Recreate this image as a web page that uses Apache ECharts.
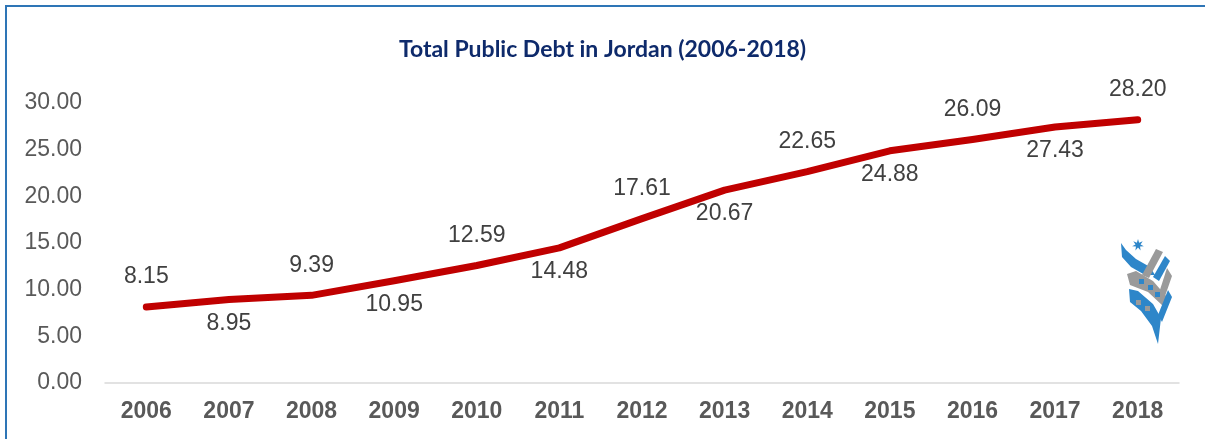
<!DOCTYPE html>
<html>
<head>
<meta charset="utf-8">
<script src="https://cdn.jsdelivr.net/npm/echarts@6/dist/echarts.min.js"></script>
<style>
html,body{margin:0;padding:0;background:#fff;}
#frame{position:absolute;left:5px;top:5px;width:1210px;height:450px;border:2px solid #2E75B6;box-sizing:border-box;}
#chart{position:absolute;left:0;top:0;width:1205px;height:439px;}
</style>
</head>
<body>
<div id="frame"></div>
<div id="chart"></div>
<script>
const years = ['2006','2007','2008','2009','2010','2011','2012','2013','2014','2015','2016','2017','2018'];
const debt = [8.15, 8.95, 9.39, 10.95, 12.59, 14.48, 17.61, 20.67, 22.65, 24.88, 26.09, 27.43, 28.20];
const labelSide = ['top','bottom','top','bottom','top','bottom','top','bottom','top','bottom','top','bottom','top'];

const chart = echarts.init(document.getElementById('chart'));
const seriesData = debt.map((v, i) => ({
  value: v,
  label: {
    show: true,
    position: labelSide[i],
    distance: labelSide[i] === 'top' ? 18 : 12
  }
}));

const blue = '#2E86C9', grey = '#9A9A9A';
function poly(points, color){ return {type:'polygon', shape:{points:points}, style:{fill:color}, z:10}; }

chart.setOption({
  animation: false,
  title: {
    text: 'Total Public Debt in Jordan (2006-2018)',
    left: 'center',
    top: 33,
    textStyle: {fontFamily: 'Lato', fontWeight: 'bold', fontSize: 23, color: '#0E2A6B'}
  },
  grid: {left: 105, right: 26, top: 103, bottom: 56, containLabel: false},
  xAxis: {
    type: 'category',
    data: years,
    boundaryGap: true,
    axisLine: {lineStyle: {color: '#D9D9D9', width: 1.5}},
    axisTick: {show: false},
    axisLabel: {fontFamily: 'Liberation Sans', fontWeight: 'bold', fontSize: 23, color: '#595959', margin: 17}
  },
  yAxis: {
    type: 'value',
    min: 0, max: 30, interval: 5,
    axisLine: {show: false},
    axisTick: {show: false},
    splitLine: {show: false},
    axisLabel: {fontFamily: 'Liberation Sans', fontSize: 23, color: '#595959', margin: 23,
      formatter: v => v.toFixed(2)}
  },
  series: [{
    type: 'line',
    data: seriesData,
    symbol: 'circle',
    symbolSize: 1,
    showSymbol: true,
    itemStyle: {color: 'rgba(0,0,0,0)'},
    lineStyle: {color: '#C00000', width: 7, cap: 'round', join: 'round'},
    label: {show: true, fontFamily: 'Liberation Sans', fontSize: 23, color: '#404040',
      formatter: p => p.value.toFixed(2)}
  }],
  graphic: [
    {type:'polygon', shape:{points:(function(){const pts=[];for(let k=0;k<14;k++){const r=k%2?2.6:6;const a=Math.PI*k/7-Math.PI/2;pts.push([1138+r*Math.cos(a),245+r*Math.sin(a)]);}return pts;})()}, style:{fill:blue}, z:10},
    poly([[1121,243],[1126,250],[1136,259],[1150,267],[1155,275],[1145,275],[1131,267],[1122,257]], blue),
    poly([[1156,249],[1163,252],[1149,278],[1142,275]], grey),
    poly([[1165,256],[1170,261],[1159,281],[1153,277]], blue),
    poly([[1127,274],[1136,271],[1153,281],[1167,297],[1163,306],[1148,292],[1130,285]], grey),
    poly([[1167,268],[1172,276],[1163,302],[1158,296]], grey),
    poly([[1129,289],[1138,291],[1153,304],[1161,318],[1158,344],[1152,326],[1141,311],[1130,302]], blue),
    poly([[1168,290],[1172,297],[1162,322],[1158,315]], blue),
    {type:'rect', shape:{x:1139,y:279,width:5,height:5}, style:{fill:blue}, z:10},
    {type:'rect', shape:{x:1148,y:285,width:5,height:5}, style:{fill:blue}, z:10},
    {type:'rect', shape:{x:1155,y:292,width:5,height:5}, style:{fill:blue}, z:10},
    {type:'rect', shape:{x:1136,y:300,width:5,height:5}, style:{fill:grey}, z:10},
    {type:'rect', shape:{x:1145,y:306,width:5,height:5}, style:{fill:grey}, z:10}
  ]
});
</script>
</body>
</html>
